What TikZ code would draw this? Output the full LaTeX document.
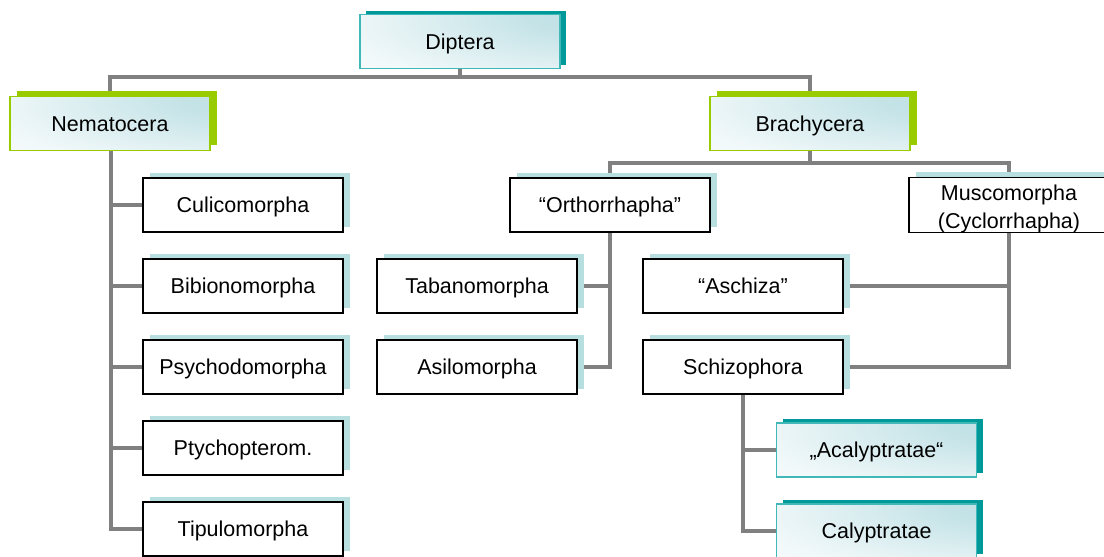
\documentclass[tikz,border=0pt]{standalone}
\usepackage{fontspec}
\setmainfont{Liberation Sans}
\usetikzlibrary{shadows,backgrounds}
\definecolor{tealsh}{RGB}{0,153,153}
\definecolor{tealbd}{RGB}{64,184,184}
\definecolor{greensh}{RGB}{153,204,0}
\definecolor{lightsh}{RGB}{184,223,224}
\definecolor{gcyan}{RGB}{186,222,227}
\definecolor{conn}{RGB}{128,128,128}
\pgfdeclareradialshading{glow}{\pgfpoint{45bp}{30bp}}{color(0bp)=(gcyan); color(20bp)=(gcyan!85!white); color(55bp)=(gcyan!20!white); color(80bp)=(white); color(120bp)=(white)}
\tikzset{
  base/.style={minimum width=200pt, minimum height=54pt, inner sep=0pt, align=center,
    text height=15.5pt, text depth=0pt,
    font=\fontsize{21.5}{28}\selectfont},
  plainbox/.style={base, draw=black, line width=1.2pt, fill=white,
    general shadow={fill=lightsh, shadow xshift=7pt, shadow yshift=5pt}},
  tealbox/.style={base, draw=tealbd, line width=1.5pt, shading=glow,
    general shadow={fill=tealsh, shadow xshift=6pt, shadow yshift=4pt}},
  greenbox/.style={base, draw=greensh, line width=1.5pt, shading=glow,
    general shadow={fill=greensh, shadow xshift=7pt, shadow yshift=6pt}},
  link/.style={draw=conn, line width=4pt}
}
\begin{document}
\begin{tikzpicture}[x=1pt,y=-1pt]
\useasboundingbox (0,0) rectangle (1104,557);
\node[tealbox] (dip) at (460,41.5) {Diptera};
\node[greenbox] (nem) at (110,123.5) {Nematocera};
\node[greenbox] (bra) at (810,123.5) {Brachycera};
\node[plainbox] (culi) at (243,205) {Culicomorpha};
\node[plainbox] (bibi) at (243,286) {Bibionomorpha};
\node[plainbox] (psyc) at (243,367) {Psychodomorpha};
\node[plainbox] (ptyc) at (243,448) {Ptychopterom.};
\node[plainbox] (tipu) at (243,529) {Tipulomorpha};
\node[plainbox] (orth) at (610,205) {“Orthorrhapha”};
\node[plainbox, text height=, text depth=] (musc) at (1009,205) {\rule{0pt}{23pt}Muscomorpha\\(Cyclorrhapha)};
\node[plainbox] (taba) at (477,286) {Tabanomorpha};
\node[plainbox] (asil) at (477,367) {Asilomorpha};
\node[plainbox] (asch) at (743,286) {“Aschiza”};
\node[plainbox] (schi) at (743,367) {Schizophora};
\node[tealbox] (acal) at (876.5,450) {„Acalyptratae“};
\node[tealbox] (caly) at (876.5,531) {Calyptratae};
\coordinate (hA) at (460,77);
\coordinate (hB) at (810,163);
\begin{scope}[on background layer]
\draw[link] (dip.south) -- (hA);
\draw[link] (nem.north) |- (hA) -| (bra.north);
\draw[link] (bra.south) -- (hB);
\draw[link] (orth.north) |- (hB) -| (musc.north);
\draw[link] ([xshift=1pt]nem.south) |- (tipu.west);
\foreach \n in {culi,bibi,psyc,ptyc}
  \draw[link] ([xshift=1pt]nem.south |- \n.west) -- (\n.west);
\draw[link] (orth.south) |- (asil.east);
\draw[link] (orth.south |- taba.east) -- (taba.east);
\draw[link] (musc.south) |- (schi.east);
\draw[link] (musc.south |- asch.east) -- (asch.east);
\draw[link] (schi.south) |- (caly.west);
\draw[link] (schi.south |- acal.west) -- (acal.west);
\end{scope}
\end{tikzpicture}
\end{document}
